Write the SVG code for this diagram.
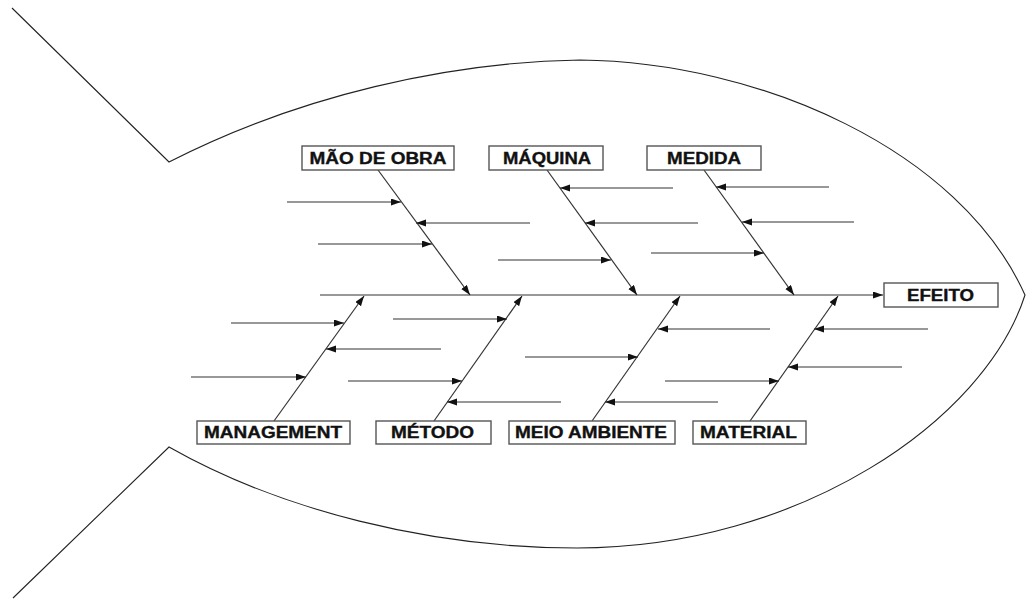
<svg xmlns="http://www.w3.org/2000/svg" width="1028" height="599" viewBox="0 0 1028 599">
  <style>
    .outline { fill: none; stroke: #222; stroke-width: 1.1; }
    .bone { fill: none; stroke: #333; stroke-width: 1.2; marker-end: url(#arrow); }
    .box { fill: #fff; stroke: #555; stroke-width: 1.4; }
    .label { font-family: "Liberation Sans", Arial, sans-serif; font-weight: bold; font-size: 16px; fill: #111; stroke: #111; stroke-width: 0.35; text-anchor: middle; }
  </style>
  <defs>
    <marker id="arrow" markerUnits="userSpaceOnUse" markerWidth="11" markerHeight="8" refX="10" refY="3.5" orient="auto">
      <path d="M0,0 L10,3.5 L0,7 z" fill="#111"/>
    </marker>
  </defs>
  <rect width="1028" height="599" fill="#fff"/>

  <!-- fish body and tail -->
  <g id="fish">
    <path class="outline" d="M12,8 L169,162 C300,95 450,62 580,60 C760,62 960,150 1025,295 C985,420 800,548 577,548 C430,548 280,510 169,447 L13,598"/>
  </g>

  <!-- spine, main bones and cause arrows -->
  <g id="connectors">
    <path class="bone" d="M320,295 L883,295"/>
    <!-- upper bones -->
    <path class="bone" d="M378,170 L470,295"/>
    <path class="bone" d="M547,170 L637,295"/>
    <path class="bone" d="M704,170 L794,295"/>
    <!-- lower bones -->
    <path class="bone" d="M274,421 L364,296"/>
    <path class="bone" d="M434,421 L522,296"/>
    <path class="bone" d="M592,421 L680,296"/>
    <path class="bone" d="M750,421 L838,296"/>

    <!-- causes: MÃO DE OBRA -->
    <path class="bone" d="M287,202 L401,202"/>
    <path class="bone" d="M530,223 L416,223"/>
    <path class="bone" d="M318,244 L432,244"/>
    <!-- causes: MÁQUINA -->
    <path class="bone" d="M673,188 L560,188"/>
    <path class="bone" d="M698,223 L585,223"/>
    <path class="bone" d="M498,260 L611,260"/>
    <!-- causes: MEDIDA -->
    <path class="bone" d="M829,187 L716,187"/>
    <path class="bone" d="M854,222 L742,222"/>
    <path class="bone" d="M651,253 L764,253"/>

    <!-- causes: MANAGEMENT -->
    <path class="bone" d="M231,323 L344,323"/>
    <path class="bone" d="M441,349 L326,349"/>
    <path class="bone" d="M191,377 L306,377"/>
    <!-- causes: MÉTODO -->
    <path class="bone" d="M393,319 L507,319"/>
    <path class="bone" d="M348,381 L462,381"/>
    <path class="bone" d="M561,402 L447,402"/>
    <!-- causes: MEIO AMBIENTE -->
    <path class="bone" d="M770,329 L658,329"/>
    <path class="bone" d="M525,357 L638,357"/>
    <path class="bone" d="M718,402 L605,402"/>
    <!-- causes: MATERIAL -->
    <path class="bone" d="M928,329 L814,329"/>
    <path class="bone" d="M902,367 L788,367"/>
    <path class="bone" d="M665,381 L779,381"/>
  </g>

  <g id="mao-de-obra">
    <rect class="box" x="302" y="146" width="152" height="24"/>
    <text class="label" x="378" y="163.5" textLength="137" lengthAdjust="spacingAndGlyphs">MÃO DE OBRA</text>
  </g>
  <g id="maquina">
    <rect class="box" x="489" y="146" width="114" height="24"/>
    <text class="label" x="547" y="163.5" textLength="88" lengthAdjust="spacingAndGlyphs">MÁQUINA</text>
  </g>
  <g id="medida">
    <rect class="box" x="647" y="146" width="114" height="24"/>
    <text class="label" x="704" y="163.5" textLength="74" lengthAdjust="spacingAndGlyphs">MEDIDA</text>
  </g>
  <g id="efeito">
    <rect class="box" x="884" y="283" width="114" height="24"/>
    <text class="label" x="940.5" y="300.5" textLength="67" lengthAdjust="spacingAndGlyphs">EFEITO</text>
  </g>
  <g id="management">
    <rect class="box" x="197" y="421" width="153" height="23"/>
    <text class="label" x="273" y="437.5" textLength="138" lengthAdjust="spacingAndGlyphs">MANAGEMENT</text>
  </g>
  <g id="metodo">
    <rect class="box" x="376" y="421" width="115" height="23"/>
    <text class="label" x="432.5" y="437.5" textLength="83" lengthAdjust="spacingAndGlyphs">MÉTODO</text>
  </g>
  <g id="meio-ambiente">
    <rect class="box" x="509" y="421" width="166" height="23"/>
    <text class="label" x="591" y="437.5" textLength="152" lengthAdjust="spacingAndGlyphs">MEIO AMBIENTE</text>
  </g>
  <g id="material">
    <rect class="box" x="693" y="421" width="113" height="23"/>
    <text class="label" x="748.5" y="437.5" textLength="97" lengthAdjust="spacingAndGlyphs">MATERIAL</text>
  </g>
</svg>
